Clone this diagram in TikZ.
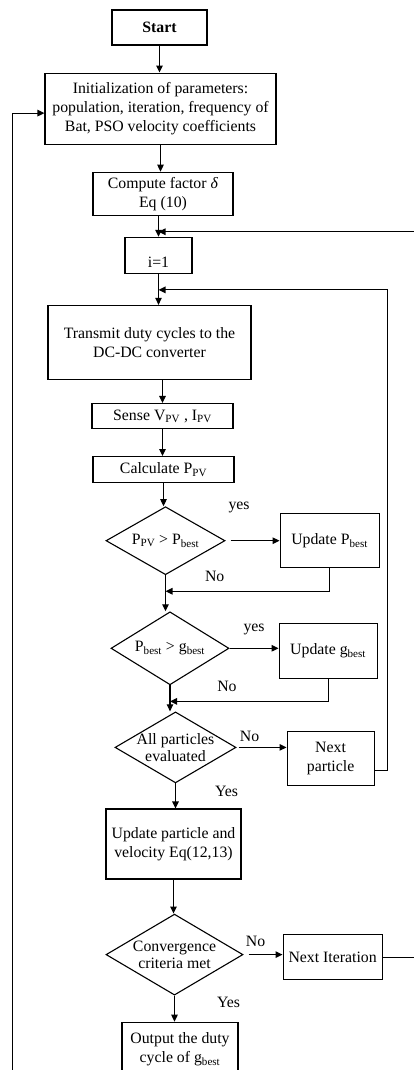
\documentclass[tikz,border=0pt]{standalone}
\usepackage{fontspec}
\setmainfont{Liberation Serif}
\usepackage{tikz}
\usetikzlibrary{shapes.geometric,arrows.meta,positioning,calc}
\newcommand{\tsub}[1]{\textsubscript{#1}}
\tikzset{
  pbox/.style 2 args={
    rectangle, draw, line width=1.1pt,
    minimum width=#1, minimum height=#2,
    inner sep=2pt, align=center
  },
  dbox/.style 2 args={
    diamond, aspect=1.7, draw, line width=1.1pt,
    minimum width=#1, minimum height=#2,
    inner sep=-2pt, align=center
  },
  arr/.style={-{Triangle[length=7pt,width=6.5pt]}, line width=1.1pt},
  lbl/.style={inner sep=1pt}
}

\begin{document}
\begin{tikzpicture}[x=1pt, y=1pt, node distance=27pt,
  every node/.style={font=\fontsize{15.8pt}{19pt}\selectfont}]
\useasboundingbox (0,0) rectangle (414,-1070);

% Main column
\node[pbox={95pt}{35pt}] (start) at (159.5,-27.5) {\textbf{Start}};

\node[pbox={231pt}{71pt}, below=27pt of start, xshift=1pt] (init)
  {Initialization of parameters:\\
   population, iteration, frequency of\\
   Bat, PSO velocity coefficients};

\node[pbox={140pt}{43pt}, below=27pt of init, xshift=2.5pt] (comp)
  {Compute factor \textit{δ}\\Eq (10)};

\node[pbox={67pt}{36pt}, text height=24pt, text depth=0pt,
  below=21pt of comp, xshift=-4.5pt] (ione) {i=1};

\node[pbox={203pt}{74pt}, below=31pt of ione, xshift=-9pt] (trans)
  {Transmit duty cycles to the\\DC-DC converter};

\node[pbox={141pt}{25pt}, below=23pt of trans, xshift=13pt] (sense)
  {Sense V\tsub{PV} , I\tsub{PV}};

\node[pbox={141pt}{26pt}, below=27pt of sense, xshift=1pt] (calc)
  {Calculate P\tsub{PV}};

% Checks and updates
\node[dbox={119pt}{68pt}, below=23pt of calc, xshift=2pt] (pvchk)
  {P\tsub{PV} > P\tsub{best}};
\node[pbox={99pt}{54pt}, right=54pt of pvchk] (upp)
  {Update P\tsub{best}};

\node[dbox={118pt}{73pt}, below=36pt of pvchk, xshift=4.5pt] (gchk)
  {P\tsub{best} > g\tsub{best}};
\node[pbox={98pt}{55pt}, right=49pt of gchk, yshift=-2.5pt] (upg)
  {Update g\tsub{best}};

\node[dbox={121pt}{71pt}, below=26pt of gchk, xshift=5.5pt] (allchk)
  {All particles\\[-2pt]evaluated};
\node[pbox={87pt}{54pt}, right=50pt of allchk, yshift=-11pt] (nextp)
  {Next\\particle};

\node[pbox={135pt}{70pt}, below=25pt of allchk, xshift=-2pt] (upd)
  {Update particle and\\velocity Eq(12,13)};

\node[dbox={137pt}{81pt}, below=34pt of upd, xshift=1pt] (conv)
  {Convergence\\[-2pt]criteria met};
\node[pbox={99pt}{45pt}, right=39pt of conv, yshift=-2.5pt] (nexti)
  {Next Iteration};

\node[pbox={116pt}{55pt}, below=26pt of conv, xshift=5.5pt] (out)
  {Output the duty\\cycle of g\tsub{best}};

% Junction points
\coordinate (j1) at ($(ione.north)+(0,5)$);
\coordinate (j2) at ($(ione.south)+(0,-16)$);
\coordinate (m1) at ($(pvchk.south)+(0,-16)$);
\coordinate (m2) at ($(gchk.south)+(0,-16)$);
\coordinate (lx) at ($(init.west)+(-32,-4.5)$);

% Arrows
\draw[arr] (start.south) -- (start.south |- init.north);
\draw[arr] (init.south) -- (init.south |- comp.north);
\draw[arr] (comp.south -| ione.north) -- (ione.north);
\draw[arr] (ione.south) -- (ione.south |- trans.north);
\draw[arr] (trans.south -| sense.north) -- (sense.north);
\draw[arr] (sense.south) -- (sense.south |- calc.north);
\draw[arr] (calc.south) -- (calc.south |- pvchk.north);

\draw[arr, shorten <=5pt] (pvchk.east)
  -- node[lbl, above=26pt, pos=0.25]{yes} (upp.west);
\draw[arr] (pvchk.south) -- (pvchk.south |- gchk.north);
\draw[arr] (upp.south) |- node[lbl, above=8pt, pos=0.85]{No} (m1);

\draw[arr] (gchk.east)
  -- node[lbl, above=12pt]{yes} (gchk.east -| upg.west);
\draw[arr] (gchk.south) -- (gchk.south |- allchk.north);
\draw[arr] (upg.south) |- node[lbl, above=8pt, pos=0.82]{No} (m2);

\draw[arr, shorten <=2pt] (allchk.east)
  -- node[lbl, above=4pt, pos=0.26]{No} (allchk.east -| nextp.west);
\draw[arr] (allchk.south)
  -- node[lbl, right=38pt, pos=0.32]{Yes} (allchk.south |- upd.north);

\draw[arr] (upd.south) -- (upd.south |- conv.north);
\draw[arr, shorten <=5pt] (conv.east)
  -- node[lbl, above=6pt, pos=0.31]{No} (conv.east -| nexti.west);
\draw[arr] (conv.south)
  -- node[lbl, right=41pt, pos=0.27]{Yes} (conv.south |- out.north);

% Feedback loops
\draw[arr] ($(nextp.east)+(0,-12)$) -- ++(13,0) |- (j2);
\draw[arr] (nexti.east) -- ++(35,0) |- (j1);
\draw[arr] (out.south) -- ++(0,-14) -| (lx) -- (lx -| init.west);

\end{tikzpicture}
\end{document}
